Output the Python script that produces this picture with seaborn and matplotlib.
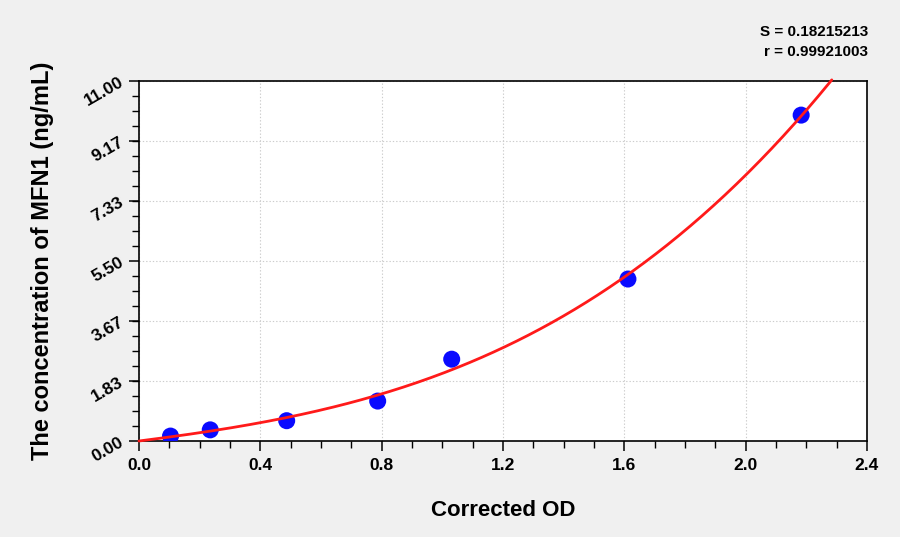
import numpy as np
import pandas as pd
import matplotlib
matplotlib.use("Agg")
import matplotlib.pyplot as plt
import seaborn as sns
from matplotlib.ticker import FixedLocator, MultipleLocator

# Data
od_values = [0.104, 0.235, 0.487, 0.787, 1.031, 1.612, 2.183]
conc_values = [0.15, 0.34, 0.62, 1.22, 2.50, 4.95, 9.96]
y_ticks = [0.00, 1.83, 3.67, 5.50, 7.33, 9.17, 11.00]
y_tick_labels = ["0.00", "1.83", "3.67", "5.50", "7.33", "9.17", "11.00"]
x_ticks = [0.0, 0.4, 0.8, 1.2, 1.6, 2.0, 2.4]
x_tick_labels = ["0.0", "0.4", "0.8", "1.2", "1.6", "2.0", "2.4"]
stat_lines = ["S = 0.18215213", "r = 0.99921003"]

CURVE_X_END = 2.284
FIT_DEGREE = 3

sns.set_theme(style="white")
plt.rcParams['font.family'] = ['Liberation Sans', 'DejaVu Sans']
plt.rcParams['text.color'] = 'black'
plt.rcParams['axes.labelcolor'] = 'black'
plt.rcParams['xtick.color'] = 'black'
plt.rcParams['ytick.color'] = 'black'

fig = plt.figure(figsize=(9, 5.37), dpi=100, facecolor="#f0f0f0")
ax = fig.add_axes([0.1544, 0.1788, 0.9633 - 0.1544, 0.849 - 0.1788])
ax.set_facecolor("white")

coefs = np.polyfit(od_values, conc_values, FIT_DEGREE)
curve_x = np.linspace(0, CURVE_X_END, 300)
curve_y = np.polyval(coefs, curve_x)
curve_df = pd.DataFrame({"x": curve_x, "y": curve_y})
pts_df = pd.DataFrame({"od": od_values, "conc": conc_values})

sns.scatterplot(data=pts_df, x="od", y="conc", ax=ax, color="#0a0aff", s=150,
                edgecolor="none", zorder=3)
sns.lineplot(data=curve_df, x="x", y="y", ax=ax, color="#ff1a1a", linewidth=2.0,
             zorder=4)
for ln in ax.get_lines():
    ln.set_clip_on(False)

ax.set_xlim(0, 2.4)
ax.set_ylim(0, 11.0)
ax.xaxis.set_major_locator(FixedLocator(x_ticks))
ax.set_xticklabels(x_tick_labels)
ax.xaxis.set_minor_locator(MultipleLocator(0.1))
ax.yaxis.set_major_locator(FixedLocator(y_ticks))
ax.set_yticklabels(y_tick_labels)
ax.yaxis.set_minor_locator(FixedLocator(list(np.arange(0, 11.0001, 11 / 24))))

ax.grid(True, which="major", color="#cccccc", linestyle=(0, (1.2, 1.8)), linewidth=0.8)
ax.set_axisbelow(True)

for sp in ax.spines.values():
    sp.set_color("black")
    sp.set_linewidth(1.2)

ax.tick_params(axis="both", which="major", direction="out", length=7, width=1.1,
               color="black", labelsize=12.5, pad=5, bottom=True, left=True)
ax.tick_params(axis="both", which="minor", direction="out", length=5, width=1.0,
               color="black", bottom=True, left=True)
for lab in ax.get_xticklabels():
    lab.set_fontweight("bold")
for lab in ax.get_yticklabels():
    lab.set_fontweight("bold")
    lab.set_rotation(30)
    lab.set_rotation_mode("anchor")
    lab.set_ha("right")
    lab.set_va("center")

ax.set_xlabel("Corrected OD", fontsize=16, fontweight="bold", labelpad=20)
ax.set_ylabel("The concentration of MFN1 (ng/mL)", fontsize=17, fontweight="bold",
              labelpad=20)

fig.text(0.9644, 0.940, stat_lines[0], ha="right", va="center", fontsize=11,
         fontweight="bold")
fig.text(0.9644, 0.904, stat_lines[1], ha="right", va="center", fontsize=11,
         fontweight="bold")

fig.savefig("out.png", dpi=100, facecolor=fig.get_facecolor())
